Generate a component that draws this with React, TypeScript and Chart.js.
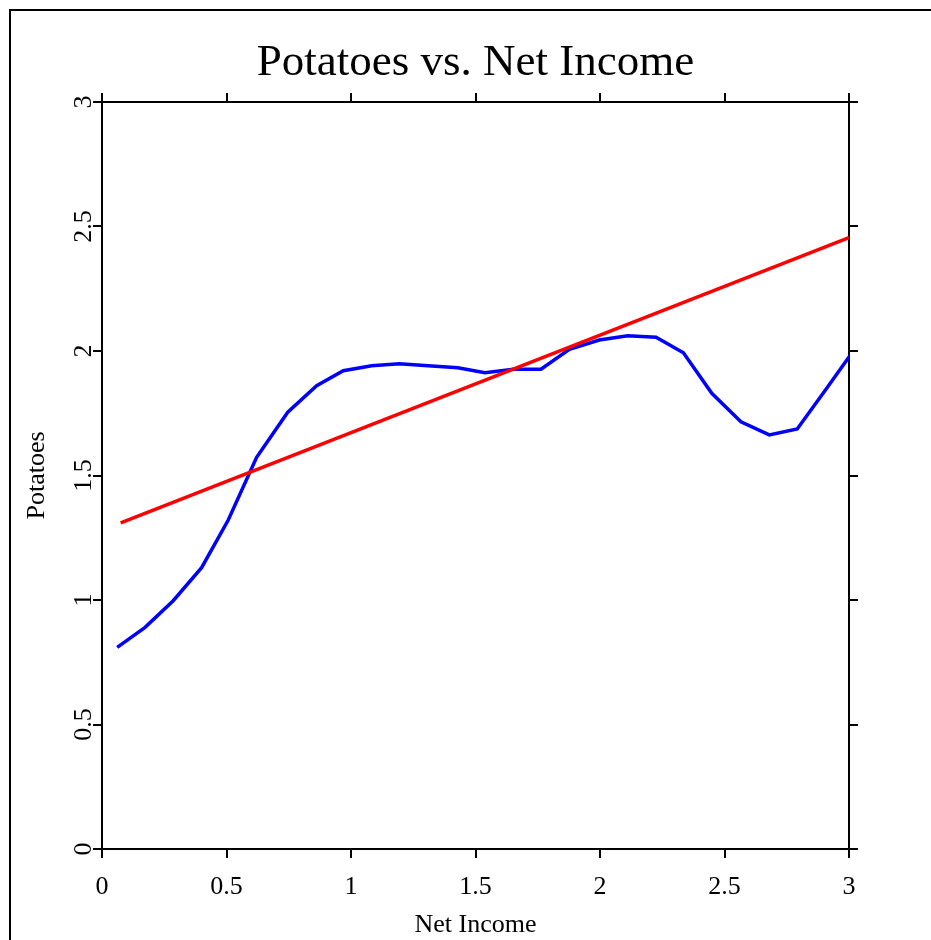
import React, { useEffect, useRef } from 'react';
import { Chart, registerables } from 'chart.js';

Chart.register(...registerables);

const chartTitle = 'Potatoes vs. Net Income';
const xTitle = 'Net Income';
const yTitle = 'Potatoes';

const xTicks = [0, 0.5, 1, 1.5, 2, 2.5, 3];
const yTicks = [0, 0.5, 1, 1.5, 2, 2.5, 3];

const smoothX = [0.061, 0.173, 0.286, 0.4, 0.507, 0.621, 0.746, 0.862, 0.969, 1.083, 1.194, 1.31, 1.429, 1.538, 1.652, 1.763, 1.877, 1.997, 2.111, 2.225, 2.335, 2.449, 2.566, 2.68, 2.792, 2.904, 3.016];
const smoothY = [0.81, 0.89, 0.997, 1.13, 1.321, 1.573, 1.754, 1.861, 1.921, 1.941, 1.949, 1.941, 1.933, 1.913, 1.927, 1.927, 2.007, 2.044, 2.061, 2.055, 1.993, 1.83, 1.716, 1.663, 1.687, 1.841, 1.998];

const fitX = [0.075, 3.0];
const fitY = [1.31, 2.455];

const FONT = "'Liberation Serif', 'Times New Roman', serif";

const framePlugin = {
  id: 'frame',
  beforeDraw(chart: any) {
    const ctx = chart.ctx;
    ctx.save();
    ctx.strokeStyle = '#000';
    ctx.lineWidth = 2;
    ctx.strokeRect(10, 10, 2000, 2000);
    ctx.restore();
  },
};

export default function App() {
  const ref = useRef<HTMLCanvasElement | null>(null);

  useEffect(() => {
    if (!ref.current) return;
    const setTicks = (vals: number[]) => (s: any) => {
      s.ticks = vals.map((v) => ({ value: v }));
    };
    const fmt = (v: any) => String(v);
    const grid = {
      display: true,
      drawOnChartArea: false,
      drawTicks: true,
      tickLength: 9,
      color: '#000',
      lineWidth: 2,
    };
    const border = { display: true, color: '#000', width: 2 };
    const tickFont = { family: FONT, size: 26, lineHeight: 1.2 };

    const chart = new Chart(ref.current, {
      type: 'line',
      data: {
        datasets: [
          {
            label: 'fit',
            data: fitX.map((x, i) => ({ x, y: fitY[i] })),
            borderColor: '#ff0000',
            borderWidth: 3.5,
            pointRadius: 0,
            tension: 0,
            xAxisID: 'x',
            yAxisID: 'y',
          },
          {
            label: 'smooth',
            data: smoothX.map((x, i) => ({ x, y: smoothY[i] })),
            borderColor: '#0000ff',
            borderWidth: 3.5,
            pointRadius: 0,
            tension: 0,
            xAxisID: 'x',
            yAxisID: 'y',
          },
        ],
      },
      options: {
        responsive: false,
        animation: false,
        layout: { padding: 0 },
        plugins: {
          legend: { display: false },
          tooltip: { enabled: false },
          title: {
            display: true,
            fullSize: false,
            text: chartTitle,
            color: '#000',
            font: { family: FONT, size: 45, weight: 'normal', lineHeight: 1.2 },
            padding: { top: 36, bottom: 0 },
          },
        },
        scales: {
          x: {
            type: 'linear',
            position: 'bottom',
            min: 0,
            max: 3,
            afterBuildTicks: setTicks(xTicks),
            afterFit: (s: any) => { s.height = 91; },
            ticks: { color: '#000', font: tickFont, padding: 14, maxRotation: 0, minRotation: 0, callback: fmt },
            grid,
            border,
            title: {
              display: true,
              text: xTitle,
              color: '#000',
              font: { family: FONT, size: 26, lineHeight: 1.2 },
              padding: { top: 0, bottom: -1 },
            },
          },
          x2: {
            type: 'linear',
            position: 'top',
            min: 0,
            max: 3,
            afterBuildTicks: setTicks(xTicks),
            afterFit: (s: any) => { s.height = 12; },
            ticks: { display: false },
            grid,
            border,
          },
          y: {
            type: 'linear',
            position: 'left',
            min: 0,
            max: 3,
            afterBuildTicks: setTicks(yTicks),
            afterFit: (s: any) => { s.width = 102; },
            ticks: { color: '#000', font: tickFont, padding: -7, minRotation: 90, maxRotation: 90, crossAlign: 'center', callback: fmt },
            grid,
            border,
            title: {
              display: true,
              text: yTitle,
              color: '#000',
              font: { family: FONT, size: 26, lineHeight: 1.2 },
              padding: { top: 22, bottom: 0 },
            },
          },
          y2: {
            type: 'linear',
            position: 'right',
            min: 0,
            max: 3,
            afterBuildTicks: setTicks(yTicks),
            afterFit: (s: any) => { s.width = 82; },
            ticks: { display: false },
            grid,
            border,
          },
        },
      } as any,
      plugins: [framePlugin],
    });
    return () => chart.destroy();
  }, []);

  return (
    <div style={{ position: 'absolute', left: 0, top: 0, width: 931, height: 940 }}>
      <canvas ref={ref} width={931} height={940} style={{ display: 'block' }} />
    </div>
  );
}
